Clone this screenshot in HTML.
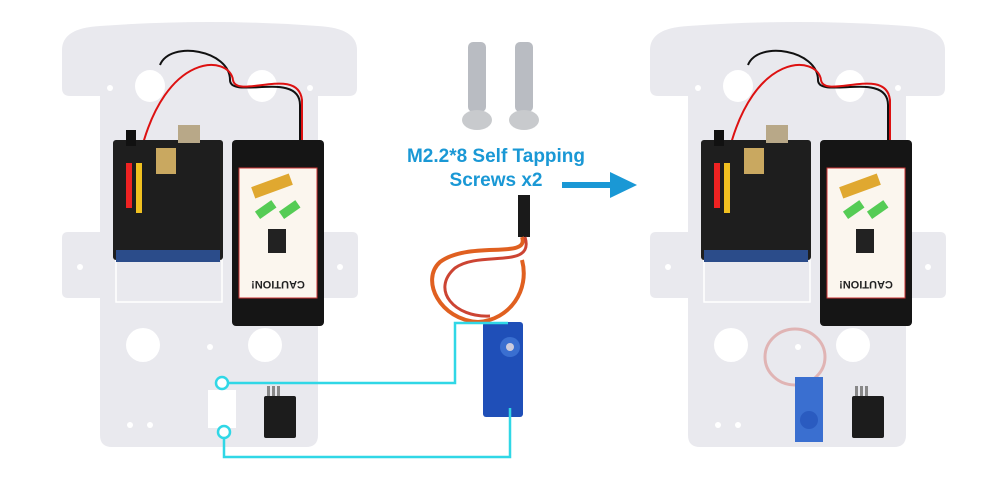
<!DOCTYPE html>
<html><head><meta charset="utf-8"><style>
html,body{margin:0;padding:0;background:#fff;}
svg{display:block;}
text{font-family:"Liberation Sans",sans-serif;}
</style></head><body>
<svg width="1000" height="491" viewBox="0 0 1000 491">
<defs>
<g id="plate">
<path d="M62,50 Q62,28 100,26 Q210,18 318,26 Q357,28 357,50 L357,88 Q357,96 349,96 L318,96 L318,232 L352,232 Q358,232 358,238 L358,292 Q358,298 352,298 L318,298 L318,435 Q318,447 306,447 L112,447 Q100,447 100,435 L100,298 L68,298 Q62,298 62,292 L62,238 Q62,232 68,232 L100,232 L100,96 L70,96 Q62,96 62,88 Z" fill="#e9e9ee"/>
<ellipse cx="150" cy="86" rx="15" ry="16" fill="#fff"/>
<ellipse cx="262" cy="86" rx="15" ry="16" fill="#fff"/>
<ellipse cx="143" cy="345" rx="17" ry="17" fill="#fff"/>
<ellipse cx="265" cy="345" rx="17" ry="17" fill="#fff"/>
<circle cx="110" cy="88" r="3" fill="#fff"/><circle cx="310" cy="88" r="3" fill="#fff"/>
<circle cx="80" cy="267" r="3" fill="#fff"/><circle cx="340" cy="267" r="3" fill="#fff"/>
<circle cx="130" cy="425" r="3" fill="#fff"/><circle cx="150" cy="425" r="3" fill="#fff"/>
<circle cx="210" cy="347" r="3" fill="#fff"/>
<rect x="116" y="240" width="106" height="62" fill="none" stroke="#fff" stroke-width="1.5"/>
<path d="M160,65 C170,40 230,50 230,80 C230,100 300,70 300,105 L300,140" fill="none" stroke="#111" stroke-width="2"/>
<path d="M140,155 C165,50 230,55 233,80 C236,100 298,65 302,100 L302,140" fill="none" stroke="#d11" stroke-width="2"/>
<rect x="113" y="140" width="110" height="120" rx="3" fill="#1e1e1e"/>
<rect x="116" y="250" width="104" height="12" fill="#2b4c8a"/>
<rect x="126" y="130" width="10" height="16" fill="#111"/>
<rect x="178" y="125" width="22" height="18" fill="#b8a888"/>
<rect x="156" y="148" width="20" height="26" fill="#c9a860"/>
<rect x="126" y="163" width="6" height="45" fill="#e22"/>
<rect x="136" y="163" width="6" height="50" fill="#f0c020"/>
<rect x="232" y="140" width="92" height="186" rx="4" fill="#151515"/>
<rect x="239" y="168" width="78" height="130" fill="#fbf6ee" stroke="#c33" stroke-width="1"/>
<rect x="252" y="180" width="40" height="12" fill="#e0a830" transform="rotate(-20 272 186)"/>
<rect x="256" y="205" width="20" height="9" fill="#5c5" transform="rotate(-35 266 210)"/>
<rect x="280" y="205" width="20" height="9" fill="#5c5" transform="rotate(-35 290 210)"/>
<rect x="268" y="229" width="18" height="24" fill="#222"/>
<text x="278" y="289" font-size="11" font-weight="bold" font-family="Liberation Serif" text-anchor="middle" transform="rotate(180 278 285)" fill="#222">CAUTION!</text>
</g>
</defs>
<g><use href="#plate"/></g>
<g transform="translate(588,0)"><use href="#plate"/></g>
<rect x="208" y="390" width="28" height="38" fill="#fff"/>
<g><rect x="267" y="386" width="3" height="10" fill="#888"/><rect x="272" y="386" width="3" height="10" fill="#888"/><rect x="277" y="386" width="3" height="10" fill="#888"/><rect x="264" y="396" width="32" height="42" rx="2" fill="#1c1c1c"/></g>
<g><rect x="855" y="386" width="3" height="10" fill="#888"/><rect x="860" y="386" width="3" height="10" fill="#888"/><rect x="865" y="386" width="3" height="10" fill="#888"/><rect x="852" y="396" width="32" height="42" rx="2" fill="#1c1c1c"/></g>
<ellipse cx="795" cy="357" rx="30" ry="28" fill="none" stroke="#e0b4b4" stroke-width="3"/>
<rect x="795" y="377" width="28" height="65" fill="#3a6fd0"/>
<circle cx="809" cy="420" r="9" fill="#2a5bc0"/>
<g>
<rect x="468" y="42" width="18" height="70" rx="5" fill="#b9bcc2"/><ellipse cx="477" cy="120" rx="15" ry="10" fill="#c8cacd"/>
<rect x="515" y="42" width="18" height="70" rx="5" fill="#b9bcc2"/><ellipse cx="524" cy="120" rx="15" ry="10" fill="#c8cacd"/>
</g>
<text x="496" y="162" font-size="19" font-weight="bold" fill="#1a98d5" text-anchor="middle">M2.2*8 Self Tapping</text>
<text x="496" y="186" font-size="19" font-weight="bold" fill="#1a98d5" text-anchor="middle">Screws x2</text>
<g><rect x="562" y="182" width="50" height="6" fill="#1a98d5"/><polygon points="610,172 637,185 610,198" fill="#1a98d5"/></g>
<g>
<rect x="518" y="195" width="12" height="42" fill="#1a1a1a"/>
<path d="M522,237 C530,260 470,240 440,262 C420,280 440,320 478,322 C510,320 530,290 522,260" fill="none" stroke="#e06020" stroke-width="4"/>
<path d="M525,237 C535,270 480,250 455,268 C430,290 455,318 490,316" fill="none" stroke="#c43" stroke-width="3"/>
<rect x="483" y="322" width="40" height="95" rx="3" fill="#1f4fb8"/>
<circle cx="510" cy="347" r="10" fill="#3a6fd0"/><circle cx="510" cy="347" r="4" fill="#ccd"/>
</g>
<g fill="none" stroke="#30d7e6" stroke-width="2.5">
<polyline points="228,383 455,383 455,323 508,323"/>
<polyline points="224,438 224,457 510,457 510,408"/>
<circle cx="222" cy="383" r="6" fill="#fff"/>
<circle cx="224" cy="432" r="6" fill="#fff"/>
</g>
</svg>
</body></html>
